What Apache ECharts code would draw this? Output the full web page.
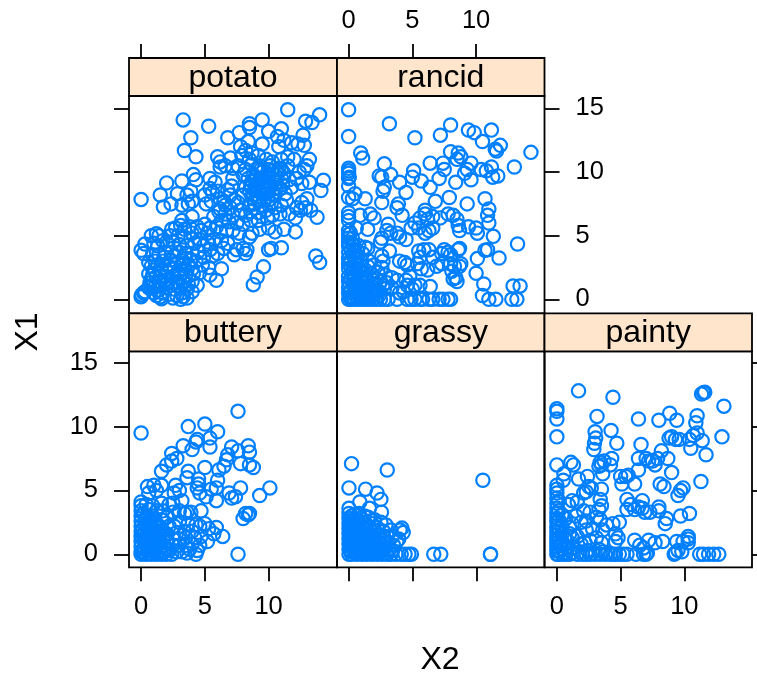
<!DOCTYPE html>
<html><head><meta charset="utf-8">
<script src="https://cdn.jsdelivr.net/npm/echarts@6/dist/echarts.min.js"></script>
<style>html,body{margin:0;padding:0;background:#fff}#c{width:757px;height:677px}</style>
</head><body><div id="c"></div>
<script>
const panelNames = ['potato','rancid','buttery','grassy','painty'];
const tickX = [0,5,10];
const tickY = [0,5,10,15];
const potato = [[11.5,14.9],[14,14.5],[13.4,13.9],[12.9,14],[9.5,14.1],[8.5,13.8],[8.5,13.5],[3.3,14.1],[5.3,13.6],[3.9,12.7],[3.4,11.7],[4.3,11.2],[6.8,12.7],[7.7,13.1],[10,13.2],[11,13.4],[12.7,12.9],[12.8,12.1],[10.7,12.8],[9.5,12.2],[8.4,12.4],[11.2,12.5],[11.8,12.3],[12.3,12.2],[10.8,12],[7.8,12],[8.2,11.7],[8.7,11.5],[9.2,11.3],[7.9,11.3],[8.5,11],[6,11.2],[6.2,10.8],[7,11.1],[6.2,10.4],[6.6,10.5],[7.2,10.3],[7.6,10.5],[9.8,11],[10.3,10.8],[11,11],[11.5,11.2],[12,11],[13.2,11],[13,10.5],[12.8,10.2],[12.4,10],[11.5,10.5],[10.8,10.3],[10,10.2],[9.5,10],[9,10.2],[8.8,9.8],[9.4,9.5],[10,9.6],[10.5,9.8],[11,9.5],[11.6,9.4],[12.2,9.5],[12.6,9.1],[13.2,9.2],[14.3,9.35],[14.1,8.55],[13.8,6.45],[7.2,9.5],[5.4,9.5],[5.8,9.2],[4.1,9.8],[4.3,9.4],[3.2,9.3],[2,9.15],[1.5,8.2],[2.85,8.3],[1.75,7.25],[2.35,7.5],[0,7.85],[3.6,8.2],[3.9,8.5],[4,7.7],[3.7,7.5],[3.2,7.4],[5,8.2],[5.4,8.7],[5.6,8.4],[6,8.5],[6.2,7.9],[5.5,7.7],[5.1,7.5],[6.8,8.6],[7.1,8.9],[7,8.2],[6.6,7.4],[7,7.2],[7.6,7.6],[8,8.2],[8.2,8.8],[8.6,9],[9,9],[9.2,8.6],[9.7,8.8],[9.8,8.3],[9.2,8.1],[8.7,8],[8.9,7.5],[9.4,7.4],[10,7.8],[10.5,8.2],[10.9,8.7],[11.3,8.3],[11.8,8.8],[11.4,7.8],[11,7.4],[10.5,7.2],[9.8,7],[9.2,6.8],[8.6,6.9],[8.2,6.6],[7.8,7],[7.2,6.6],[6.6,6.7],[6.1,6.9],[5.7,6.5],[6.3,6.2],[6.9,6.1],[7.5,6],[8,5.9],[8.6,6.2],[9.2,6.2],[9.9,6.4],[10.3,6.6],[10.9,6.7],[11.6,6.7],[12.1,6.4],[12.5,7],[12.9,7.2],[12.2,7.2],[13,7.9],[12.6,7.6],[13.3,7],[12.1,5.3],[11.2,5.5],[10.5,5.3],[10,5.6],[9.3,5.5],[8.7,5.2],[8.5,4.9],[7.7,5.2],[7.2,5.4],[6.7,5.4],[6.2,5.3],[5.9,5.7],[5.4,5.6],[5,5.9],[5.2,5.2],[4.7,5.4],[4.6,4.7],[5.2,4.5],[5.7,4.7],[6.3,4.6],[6.8,4.4],[6.5,4],[7.5,3.9],[8,4],[8.2,3.6],[7.3,3.5],[8.3,3.9],[6,3.6],[5.4,3.9],[4.9,4.2],[10,3.9],[10.2,4],[11,4.05],[13.7,3.4],[14,2.9],[9.6,2.55],[9.1,1.75],[8.8,1.15],[4,6.5],[3.2,6.2],[3.1,5.8],[2.7,5.6],[2.4,5.5],[3.4,5.5],[3.8,5.7],[4.4,5.7],[4,5.2],[3.4,4.9],[2.9,5],[2.3,5],[1.2,5.15],[1.4,5],[0.8,5],[0.3,4.35],[0,3.85],[0.2,3.6],[1,4.4],[1.3,4.2],[1.7,4.6],[2.1,4.3],[2.5,4.5],[3,4.3],[3.6,4.2],[4.2,4.4],[4.5,3.8],[4,3.6],[3.5,3.6],[3,3.7],[2.4,3.7],[1.9,3.7],[1.4,3.5],[0.9,3.5],[1.1,3],[1.7,3],[2.3,3.1],[2.8,2.9],[3.3,3],[3.9,3.1],[4.3,3],[4.9,3.3],[5.6,3.4],[4.8,2.7],[5.3,2.5],[6.3,2.4],[5.4,1.9],[5.9,1.5],[4.6,2.1],[4,2.4],[3.4,2.4],[2.6,2.4],[2.2,2.6],[1.6,2.3],[1,2.3],[0.6,2],[0.8,1.6],[1.2,1.8],[1.9,1.8],[2.5,1.8],[3,1.7],[3.5,1.9],[4,1.4],[4.4,1.1],[3.7,1.2],[3.1,1],[2.5,1.3],[1.9,1.2],[1.4,1.3],[0.9,1.1],[0.7,1.3],[1.3,0.7],[1.7,0.5],[2,0.9],[2.6,0.8],[3.2,0.5],[3.6,0.8],[4,0.6],[1.5,0.2],[1.6,0.05],[0,0.2],[0.05,0.35],[0.2,0.5],[0.3,0.6],[2.5,0.1],[3.1,0],[3.3,0.2],[3.6,0.1],[8.9,8.6],[9.1,8.9],[9.5,8.4],[9.9,9.1],[10.2,8.9],[8.5,8.5],[8.8,8.2],[9.3,9.2],[9.7,9.3],[8.4,9.5],[8.7,9.3],[9.9,9.9],[10.4,9.3],[10.7,10],[10.1,10.5],[11,10.2],[11.2,9.9],[9.3,10.5],[8.7,10.6],[8.2,10.2],[8,9.8],[10.3,8.3],[10.6,8.7],[10.2,7.5],[9.6,7.8],[11.1,9],[9.2,7.7],[8.5,7.4],[6.2,7.1],[6.5,7.7],[7.3,7.8],[3.5,3.2],[2.6,3.4],[1.8,3.3],[1.3,2.7],[2,2.2],[2.9,2.1],[3.2,2.8],[1.5,1.8],[1.1,1],[1.9,1.5],[2.3,1.1],[0.8,2.6],[0.6,2.9],[2.9,1.3],[3.3,1.4],[1,0.5],[1.2,0.3],[2.2,0.4],[2.8,0.3],[4.1,2],[3.7,2.7],[0.6,0.9],[0.9,1.9],[9,9.4],[9.6,8.6],[10,8.6],[10.6,9.2],[8.6,8.8],[9.4,10.2],[10.3,10.1]];
const rancid = [[0,14.9],[0,12.8],[3.2,13.8],[5.2,12.7],[7.2,12.9],[8,13.7],[9.4,13.3],[9.85,13.1],[11.2,13.3],[10.5,12.4],[11.5,11.8],[11.9,12.1],[11.6,11.65],[14.3,11.55],[13,10.4],[0.95,11.5],[1.1,11.1],[2.8,10.65],[6.4,10.7],[8,11.6],[8.6,11.5],[8.8,11.2],[8.5,11],[7.4,10.7],[7.5,10.2],[9.6,10.7],[9.3,10.2],[9.1,9.9],[10.4,10.2],[10.8,10.1],[11.2,10.4],[11.3,9.6],[11.7,9.7],[9.6,9.4],[8.4,9.2],[7.1,9.5],[6.4,8.8],[5.1,10.1],[5,9.6],[5.7,9.3],[4,9.2],[3.3,9.8],[2.4,9.7],[2.6,9.6],[2.8,8.8],[2.7,8.5],[4.5,8.4],[0,10.3],[0,10.1],[0,9.9],[0.05,9.6],[0,9.5],[0,8.9],[0,8],[0.3,7.9],[0.5,8.3],[1.3,7.9],[2.6,7.6],[3.9,7.5],[3.8,7.2],[4.2,6.6],[0,6.8],[0,6.5],[0,6.2],[0.9,6.6],[1.7,6.7],[2,6.4],[6.8,7.7],[7.9,8],[9.3,7.5],[10.7,7.9],[11,7.1],[10.9,6.6],[11,6],[6,7],[6,6.7],[6.2,6.3],[6.6,6.5],[7.2,6.4],[7.8,6.7],[8.2,6.6],[8.5,6.3],[8.6,5.8],[8.7,5.4],[9.4,5.7],[10,5.6],[10.1,5.2],[11.35,4.95],[5.2,6],[5.6,6.4],[4.9,5.6],[5.5,5.6],[6,5.2],[6.3,5.4],[6.6,5.6],[3.1,5.9],[3,5.4],[3.3,5.2],[3.8,5.2],[4,4.9],[4.5,4.7],[2.6,4.8],[2.5,4.5],[1.5,5.5],[0.6,5.6],[0,5.4],[0,5.1],[0,4.8],[0,4.5],[0,4.2],[0.4,4.3],[0.8,4.2],[1.3,4.1],[1.5,4],[1.1,3.6],[0.5,3.7],[0,3.7],[0,3.2],[0.5,3.2],[1,3],[1.6,3],[2,2.7],[2.6,2.5],[2.6,3.4],[2.7,3],[3.2,3.8],[4,3],[4.4,2.9],[4.6,2.7],[5.5,3.8],[5.9,3.9],[5.6,3.3],[6.3,3.9],[6.6,3.3],[5.4,2.8],[5.7,2.4],[6.2,2.3],[6.9,2.6],[7.3,2.8],[7.3,3.6],[7.5,3.9],[7.8,3.7],[8,3.5],[8,2.8],[8.3,2.6],[8.7,2.6],[8.8,2.8],[8.1,2.2],[8.2,1.6],[8.4,1.7],[8.5,1.4],[8.6,3.9],[8.7,4],[10.1,3.2],[10.7,3.85],[10.9,3.9],[11.8,3.25],[13.25,4.35],[12.9,1.05],[13.45,1.05],[12.8,0],[13.2,0],[11,0],[11.55,0],[10.5,0.3],[10.6,1.2],[10,2.05],[0,2.8],[0,2.4],[0.4,2.5],[0.8,2.4],[1.3,2.3],[1.8,2],[2.3,2.1],[2.9,1.9],[3.4,1.7],[3.8,1.5],[4.5,1.5],[4.8,1.8],[4.6,1.1],[5.2,1.1],[5.6,1.1],[6.4,1],[3,1.3],[2.5,1.4],[2,1.2],[1.5,1.5],[1,1.7],[0.5,1.8],[0,1.8],[0,1.4],[0.4,1.2],[0.9,1],[1.3,0.9],[1.8,0.8],[2.3,0.7],[2.8,0.8],[3.4,0.9],[4,0.5],[4.3,0.6],[5,0.8],[0,0.9],[0,0.5],[0.4,0.5],[0.9,0.4],[1.4,0.4],[1.9,0.3],[2.4,0.3],[0,0],[0.2,0],[0.4,0],[0.7,0],[1,0],[1.3,0],[1.6,0],[1.9,0],[2.2,0],[2.5,0],[2.8,0],[3.1,0],[3.8,0],[4.6,0],[4.9,0],[5.2,0],[5.6,0],[5.8,0],[6.3,0],[6.6,0],[7.1,0],[7.4,0],[7.8,0],[8,0],[0.1,0.2],[0.7,0.8],[1.1,1.3],[0.3,2.1],[1.5,2.6],[0.2,3],[0.6,1],[0.2,1.5],[0.3,0.2],[0.6,0.2],[1,0.2],[1.2,0.7],[0.5,0.7],[1.6,1],[2.1,0.5],[0.3,3.5],[0.7,3.4],[0.3,4.8],[0.6,2.7],[1.1,2],[2.2,1.6],[0.2,0.7],[0.9,0.1],[1.5,0.2],[0.7,1.4],[1.3,1.7],[0.2,2.5],[0.9,2.7],[0.2,3.9],[0.3,4.3],[0.7,3.8],[0.15,5.2],[1.9,1.5],[2.1,0.9],[2.7,1.1],[1.2,0.2],[1.7,0.5],[0.4,1.6]];
const buttery = [[0,9.5],[7.6,11.2],[3.7,10],[5,10.2],[6,9.6],[4.4,9],[4.3,8.8],[5.4,9.1],[5.4,8.4],[3.3,8.5],[4,8.2],[2.4,7.9],[2.8,7.5],[2.4,7.3],[2,7],[1.6,6.5],[7.1,8.4],[7.6,8.1],[8.4,8.5],[8.5,8],[6.8,7.8],[6.7,7.4],[6.5,6.9],[6.1,6.6],[7.8,7.1],[8.5,7],[8.8,6.8],[5,6.8],[3.7,6.5],[3.6,6],[4.5,5.9],[4.5,5.5],[4.4,5.2],[4.6,4.8],[5.1,4.5],[5.5,5.1],[5.9,5.2],[6,5.8],[5.9,4.2],[6.9,4.8],[7.1,4.4],[7.4,4.5],[7.8,5.2],[9.3,4.6],[10.1,5.2],[8.2,3.2],[8.4,3.1],[8.5,3.2],[8,2.8],[7.6,0],[2.7,5.4],[3,5],[2.6,4.8],[1.6,5.4],[1,5.4],[0.6,4.8],[0.5,5.3],[1.2,5],[0,4.1],[0,3.8],[0,3.4],[0,3],[0,2.6],[0,2.2],[0,1.8],[0,1.4],[0,1],[0,0.6],[0,0.2],[0,0],[0.4,0],[0.8,0],[1.2,0],[1.6,0],[2,0],[2.4,0],[2.8,0.2],[3.2,0.2],[3.6,0.1],[4.3,0],[4.4,0.3],[0.5,0.5],[1,0.5],[1.5,0.5],[2,0.5],[2.5,0.7],[3,0.7],[3.5,0.7],[4,0.8],[4.6,0.7],[5.2,1],[0.5,1],[1,1],[1.5,1],[2,1],[2.5,1.2],[3,1.2],[3.5,1.3],[4.2,1.3],[4.7,1.4],[6.4,1.4],[5.7,1.6],[5.3,2],[5.9,2.1],[5,2.4],[4.3,2.3],[4.6,2.2],[0.5,1.5],[1,1.5],[1.5,1.6],[2,1.6],[0.5,2],[1,2],[1.5,2.1],[2.2,2.2],[2.6,2.2],[3,2.5],[3.4,1.8],[0.5,2.5],[1.1,2.6],[1.6,2.7],[2,2.9],[2.5,3.3],[3,3.4],[3.4,3.2],[3.6,3.3],[3.9,3.3],[4.7,3.4],[0.5,3],[0.6,3.5],[1.2,3.4],[1.7,3.4],[2.2,3.9],[2.5,4],[3.2,4.2],[1.6,4],[0.9,3.8],[0.4,3.9],[0.2,1.1],[0.8,1.3],[1.3,2.3],[2.8,1.7],[3.8,0.4],[4,1.8],[3.7,2.4],[0.2,0.2],[0.6,0.1],[1,0.2],[1.4,0.2],[0.3,0.8],[0.7,0.7],[1.2,0.7],[0.2,1.6],[0.7,1.7],[1.2,1.2],[0.3,2.3],[0.8,2.2],[1.3,1.8],[1.7,1.2],[0.2,3.2],[0.9,3],[0.3,0.4],[0.9,0.4],[1.8,0.2],[2.2,0.3],[0.15,0.1],[0.5,0.25],[0.75,0.3],[1.1,0.8],[0.35,1.25],[0.85,1.75],[0.15,2],[0.6,2.25],[1.05,2.25],[0.3,2.75],[0.75,2.7],[1.3,1.1],[1.75,0.7],[1.4,0.9],[0.55,1.1],[1.9,1.4]];
const grassy = [[0.2,7.1],[3,6.6],[10.5,5.8],[0,5.2],[1.3,5.1],[2.2,4.8],[2.5,4.3],[0.85,4.1],[0,3.6],[1.6,3.6],[2.55,3.3],[0,3.2],[0.4,3.1],[0.8,3.2],[1.2,3],[1.5,2.9],[2,2.7],[2.5,2.5],[2.9,2.3],[4.15,2.05],[4.25,1.7],[4,1.9],[3.75,1],[3.9,1.2],[3.3,1.9],[3,1.4],[6.65,0],[7.2,0],[11.1,0],[11.1,0],[4.9,0],[4.7,0],[4.4,0],[4.1,0],[3.7,0],[3.3,0],[3,0],[2.6,0],[2.2,0],[1.8,0],[1.4,0],[1,0],[0.6,0],[0.2,0],[0,0],[0,0.4],[0.3,0.4],[0.7,0.4],[1.1,0.4],[1.5,0.4],[1.9,0.4],[2.3,0.4],[2.7,0.4],[3.1,0.4],[0,0.8],[0.4,0.8],[0.8,0.8],[1.2,0.8],[1.6,0.8],[2,0.8],[2.4,0.8],[2.8,0.9],[0,1.2],[0.4,1.2],[0.8,1.2],[1.2,1.2],[1.6,1.2],[2,1.2],[2.4,1.3],[0,1.6],[0.4,1.6],[0.8,1.6],[1.2,1.6],[1.6,1.6],[2,1.7],[0,2],[0.4,2],[0.8,2],[1.2,2],[1.6,2.1],[2.2,2.1],[0,2.4],[0.4,2.4],[0.8,2.4],[1.2,2.5],[0,2.8],[0.4,2.7],[0.9,2.8],[2,1.9],[2.7,1.8],[0.2,0.2],[0.5,0.2],[0.9,0.2],[1.3,0.2],[1.7,0.2],[2.1,0.2],[2.5,0.2],[0.2,0.6],[0.6,0.6],[1,0.6],[1.4,0.6],[1.8,0.6],[2.2,0.6],[0.2,1],[0.6,1],[1,1],[1.4,1],[1.8,1],[0.2,1.4],[0.6,1.4],[1,1.4],[1.4,1.4],[1.8,1.4],[0.2,1.8],[0.6,1.8],[1,1.8],[0.2,2.2],[0.6,2.2],[1,2.2],[0.2,2.6],[0.6,2.6],[0.2,3],[2.9,0.1],[3.4,0.3],[2.6,1.1],[3.1,0.9],[3.5,0.7],[2.2,1.5],[2.7,1.4],[1.4,2.3],[1.8,2.4],[3.4,1.4]];
const painty = [[1.7,12.8],[4.4,12.3],[13.1,11.6],[11.5,12.65],[11.6,12.7],[11.35,12.55],[0,11.4],[0,11.2],[0,10.6],[0,9.2],[3.15,10.8],[6.4,10.6],[8,10.5],[8.85,11.05],[9.4,10.5],[11,10.85],[10.9,10.3],[12.95,9.2],[3,9.6],[3.05,9.1],[2.95,8.7],[2.9,8.2],[4.25,9.7],[4.7,8.7],[6.6,8.6],[8.8,9.1],[9,9.2],[9.3,9],[9.6,9],[10.4,9],[10.7,9.3],[11,9.5],[11.4,8.9],[10.5,8.3],[8.2,8.1],[8.7,7.5],[7.9,7.5],[7.7,7],[7,7.5],[6.4,7.5],[7.2,7.3],[7.5,7.3],[6.4,6.6],[6.1,5.5],[9,6.4],[8.1,5.5],[8.4,5.3],[9.7,5],[9.9,5.2],[9.5,4.6],[11.3,5.7],[11.7,7.8],[4.3,7.5],[3.5,7],[3.4,7.2],[3.3,6.9],[3.6,6.3],[3.7,7.3],[4.2,7],[5,6.1],[5.1,5.5],[5.4,6.1],[5.6,6.2],[0,7],[0.55,6.3],[1.1,7.2],[1.3,7],[1.7,5.9],[2.4,6.1],[0.5,5.8],[0,5.4],[0,5.1],[0,4.8],[0,4.4],[2.5,5.3],[2.7,5.2],[3.5,5.1],[2.1,4.8],[2.3,4.9],[1.6,4.1],[1.2,4.2],[0.9,3.9],[3.4,4.3],[3.5,3.8],[3.3,3.5],[5.5,4.3],[5.8,3.9],[5.5,3.5],[6.1,3.5],[6.4,3.7],[6.7,3.6],[6.7,4.2],[6.9,3.3],[7.3,3.3],[8,3.7],[8,3.4],[8.6,2.8],[8.5,2.4],[9.7,3],[10.4,3.2],[4.9,2.5],[4.4,2.4],[4.6,1.6],[4.8,1.3],[4.6,1],[3.9,2.3],[3.4,2.7],[3.1,2.9],[2.6,3.3],[2.1,3.4],[1.5,3],[1.2,2.4],[1,2.1],[1.6,1.4],[2.3,1.9],[2.8,2],[3.1,1.3],[3.5,0.9],[3.3,0.4],[6.1,1.1],[6.5,0.7],[6.8,0.5],[7.2,1.1],[7.7,0.9],[8.3,1],[9.4,1],[9.9,1],[10.3,0.9],[10.3,1.2],[10.3,1.4],[9.5,0.3],[9.8,0.2],[9.2,0],[9.3,0.1],[11.2,0],[11.5,0],[11.9,0],[12.3,0],[12.7,0],[6.2,0],[6.8,0],[7,0],[7.1,0.1],[5.5,0],[5.2,0],[4.9,0],[4.6,0],[4.2,0],[3.8,0],[3.4,0],[3,0],[2.6,0],[2,0],[1.6,0],[1,0],[0.7,0],[0.4,0],[0.1,0],[0,0],[0,0.3],[0,0.6],[0,0.9],[0,1.2],[0,1.5],[0,1.8],[0,2.1],[0,2.5],[0,2.8],[0,3.2],[0,3.6],[0,4],[0.4,0.4],[0.8,0.5],[0.4,1],[0.8,1.1],[1.3,0.5],[0.4,1.6],[1.2,1.3],[0.4,2.2],[0.7,2.8],[0.4,3.1],[1,1.6],[2.2,0.9],[2.6,1.1],[2.4,0.3],[1.9,0.8],[3.6,1.9],[2.3,2.6],[1.9,2.5],[0.2,0.2],[0.6,0.1],[1.2,0.1],[1.8,0.2],[2.3,0],[2.8,0.1],[3.6,0.2],[4,0.1],[4.4,0],[0.2,0.7],[0.2,1.3],[0.2,2],[0.15,2.7],[0.15,3.4],[0.15,4.2]];

const seriesData = {potato, rancid, buttery, grassy, painty};
const X = {potato:[129,208],rancid:[337,207.5],buttery:[129,208],grassy:[337,207.5],painty:[544.5,207.5]};
const xMin = {potato:-0.95,rancid:-0.91,buttery:-0.95,grassy:-0.94,painty:-0.97};
const Y = {potato:[96,217.3,-1.1,15.98],rancid:[96,217.3,-1.1,15.98],buttery:[351.3,216,-1.02,15.9],grassy:[351.3,216,-1.02,15.9],painty:[351.3,216,-1.02,15.9]};
const xSide = {potato:['top',false],rancid:['top',true],buttery:['bottom',true],grassy:['bottom',false],painty:['bottom',true]};
const ySide = {potato:['left',false],rancid:['right',true],buttery:['left',true],grassy:null,painty:['right',false]};
const font = 'Liberation Sans';
const lab = {fontFamily:font,fontSize:25.5,color:'#000'};
const grid=[],xAxis=[],yAxis=[],series=[],graphic=[];
panelNames.forEach((n,i)=>{
  const [l,w]=X[n],[t,h,y0,y1]=Y[n];
  grid.push({left:l,top:t,width:w,height:h,show:true,borderColor:'#000',borderWidth:1.8,backgroundColor:'transparent'});
  const xs=xSide[n],ys=ySide[n];
  const xm=xMin[n];
  xAxis.push({gridIndex:i,type:'value',min:xm,max:xm+w/12.75,position:xs[0],offset:xs[0]==='top'?38:0,
    splitLine:{show:false},axisLine:{show:false,onZero:false},
    axisTick:{show:true,length:14,lineStyle:{color:'#000',width:1.8},customValues:tickX},
    axisLabel:{show:xs[1],margin:xs[0]==='top'?24:27,customValues:tickX,...lab}});
  yAxis.push({gridIndex:i,type:'value',min:y0,max:y1,position:ys?ys[0]:'left',
    splitLine:{show:false},axisLine:{show:false,onZero:false},
    axisTick:{show:!!ys,length:15,lineStyle:{color:'#000',width:1.8},customValues:tickY},
    axisLabel:{show:!!(ys&&ys[1]),margin:31,padding:[4,0,0,0],customValues:tickY,...lab}});
  series.push({type:'scatter',xAxisIndex:i,yAxisIndex:i,data:seriesData[n],symbol:'circle',symbolSize:13.3,silent:true,
    itemStyle:{color:'rgba(0,0,0,0)',borderColor:'#0080ff',borderWidth:2.2,opacity:1},clip:false,z:1});
  graphic.push({type:'rect',shape:{x:l,y:t-38,width:w,height:38},style:{fill:'#ffe5cc',stroke:'#000',lineWidth:1.8},z:5});
  graphic.push({type:'text',x:l+w/2,y:t-18,style:{text:n,fontFamily:font,fontSize:32,fill:'#000',align:'center',verticalAlign:'middle'},z:6});
});
graphic.push({type:'text',x:28,y:332,rotation:Math.PI/2,style:{text:'X1',fontFamily:font,fontSize:32,fill:'#000',align:'center',verticalAlign:'middle'}});
graphic.push({type:'text',x:440,y:660,style:{text:'X2',fontFamily:font,fontSize:32,fill:'#000',align:'center',verticalAlign:'middle'}});
const chart=echarts.init(document.getElementById('c'),null,{renderer:'canvas'});
chart.setOption({animation:false,backgroundColor:'#fff',grid,xAxis,yAxis,series,graphic});
</script></body></html>
